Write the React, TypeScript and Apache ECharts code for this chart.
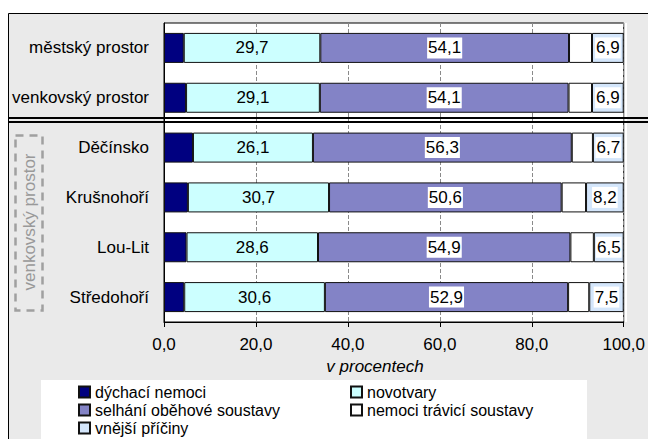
import React, { useEffect, useRef } from "react";
import * as echarts from "echarts";

const categories = ["městský prostor", "venkovský prostor", "Děčínsko", "Krušnohoří", "Lou-Lit", "Středohoří"];
const seriesNames = ["dýchací nemoci", "novotvary", "selhání oběhové soustavy", "nemoci trávicí soustavy", "vnější příčiny"];
const dychaci = [4.3, 4.8, 6.3, 5.2, 4.9, 4.4];
const novotvary = [29.7, 29.1, 26.1, 30.7, 28.6, 30.6];
const selhani = [54.1, 54.1, 56.3, 50.6, 54.9, 52.9];
const travici = [5.0, 5.1, 4.6, 5.3, 5.1, 4.6];
const vnejsi = [6.9, 6.9, 6.7, 8.2, 6.5, 7.5];
const xTicks = [0, 20, 40, 60, 80, 100];
const axisTitle = "v procentech";
const groupLabel = "venkovský prostor";

const FONT = "'Liberation Sans', Arial, sans-serif";
const fmt = (v: number) => v.toFixed(1).replace(".", ",");

export default function App() {
  const ref = useRef<HTMLDivElement>(null);
  useEffect(() => {
    if (!ref.current) return;
    const chart = echarts.init(ref.current, undefined, { renderer: "svg" });
    const colors = ["#000080", "#ccffff", "#8383c6", "#ffffff", "#d4e6fb"];
    const values = [dychaci, novotvary, selhani, travici, vnejsi];
    const labelled = [false, true, true, false, true];
    const whiteBox = [false, false, true, false, true];
    const series = seriesNames.map((name, i) => ({
      name,
      type: "bar",
      stack: "total",
      barWidth: 30,
      z: 2,
      data: values[i],
      itemStyle: { color: colors[i], borderColor: "#111", borderWidth: 1 },
      label: {
        show: labelled[i],
        position: "inside",
        formatter: (p: any) => fmt(p.value),
        fontSize: 17,
        fontFamily: FONT,
        color: "#000",
        backgroundColor: whiteBox[i] ? "#fff" : "transparent",
        padding: [2, 1],
      },
      emphasis: { disabled: true },
    }));
    const legendPos = [
      [78, 384],
      [350, 384],
      [78, 402],
      [350, 402],
      [78, 420],
    ];
    const legends = seriesNames.map((name, i) => ({
      data: [name],
      left: legendPos[i][0],
      top: legendPos[i][1],
      padding: 0,
      itemWidth: 11,
      itemHeight: 11,
      icon: "rect",
      selectedMode: false,
      z: 5,
      textStyle: { fontSize: 16, fontFamily: FONT, color: "#000" },
    }));
    const G = { left: 164, top: 23, right: 627, bottom: 322 };
    const gray = "#eaeaea";
    chart.setOption({
      animation: false,
      textStyle: { fontFamily: FONT },
      grid: {
        left: G.left,
        top: G.top,
        width: G.right - G.left,
        height: G.bottom - G.top,
        show: true,
        backgroundColor: "transparent",
        borderColor: "#000",
        borderWidth: 1,
        z: 1,
      },
      xAxis: {
        type: "value",
        z: 1.5,
        min: xTicks[0],
        max: xTicks[xTicks.length - 1],
        interval: 20,
        axisLine: { show: true, lineStyle: { color: "#000", width: 1 } },
        axisTick: { show: true, length: 5, lineStyle: { color: "#000" } },
        axisLabel: { formatter: (v: number) => fmt(v), fontSize: 17, fontFamily: FONT, color: "#000", margin: 14 },
        splitLine: { show: true, lineStyle: { color: "#8a8a8a", width: 1, type: "dashed" } },
      },
      yAxis: {
        type: "category",
        z: 1.5,
        inverse: true,
        data: categories,
        axisLine: { show: true, lineStyle: { color: "#000" } },
        axisTick: { show: false },
        axisLabel: { fontSize: 17, fontFamily: FONT, color: "#000", margin: 15 },
        splitLine: { show: false },
      },
      legend: legends,
      series,
      graphic: [
        { type: "rect", z: 0, shape: { x: 8.5, y: 13.5, width: 700, height: G.top - 13.5 }, style: { fill: gray } },
        { type: "rect", z: 0, shape: { x: 8.5, y: G.top, width: G.left - 8.5, height: G.bottom - G.top }, style: { fill: gray } },
        { type: "rect", z: 0, shape: { x: G.right, y: G.top, width: 100, height: G.bottom - G.top }, style: { fill: gray } },
        { type: "rect", z: 0, shape: { x: 8.5, y: G.bottom, width: 700, height: 200 }, style: { fill: gray } },
        {
          type: "rect",
          z: 0.2,
          shape: { x: 8.5, y: 13.5, width: 700, height: 500 },
          style: { fill: "none", stroke: "#000", lineWidth: 1 },
        },
        {
          type: "rect",
          z: 0.5,
          shape: { x: 41, y: 380, width: 546, height: 80 },
          style: { fill: "#fff" },
        },
        {
          type: "line",
          z: 100,
          shape: { x1: 8, y1: 118, x2: 648, y2: 118 },
          style: { stroke: "#000", lineWidth: 2 },
        },
        {
          type: "line",
          z: 100,
          shape: { x1: 8, y1: 122, x2: 648, y2: 122 },
          style: { stroke: "#000", lineWidth: 2 },
        },
        {
          type: "rect",
          z: 100,
          shape: { x: 15.5, y: 135.5, width: 27, height: 175 },
          style: { fill: "none", stroke: "#a0a0a0", lineWidth: 2.5, lineDash: [8, 6] },
        },
        {
          type: "text",
          z: 100,
          x: 29,
          y: 222,
          rotation: Math.PI / 2,
          style: {
            text: groupLabel,
            fill: "#999",
            font: `17px ${FONT}`,
            textAlign: "center",
            textVerticalAlign: "middle",
          },
        },
        {
          type: "text",
          z: 100,
          x: 375,
          y: 366,
          style: {
            text: axisTitle,
            fill: "#000",
            font: `italic 17px ${FONT}`,
            textAlign: "center",
            textVerticalAlign: "middle",
          },
        },
      ],
    });
    return () => chart.dispose();
  }, []);
  return <div ref={ref} style={{ position: "fixed", left: 0, top: 0, width: 648, height: 439, background: "#fff" }} />;
}
